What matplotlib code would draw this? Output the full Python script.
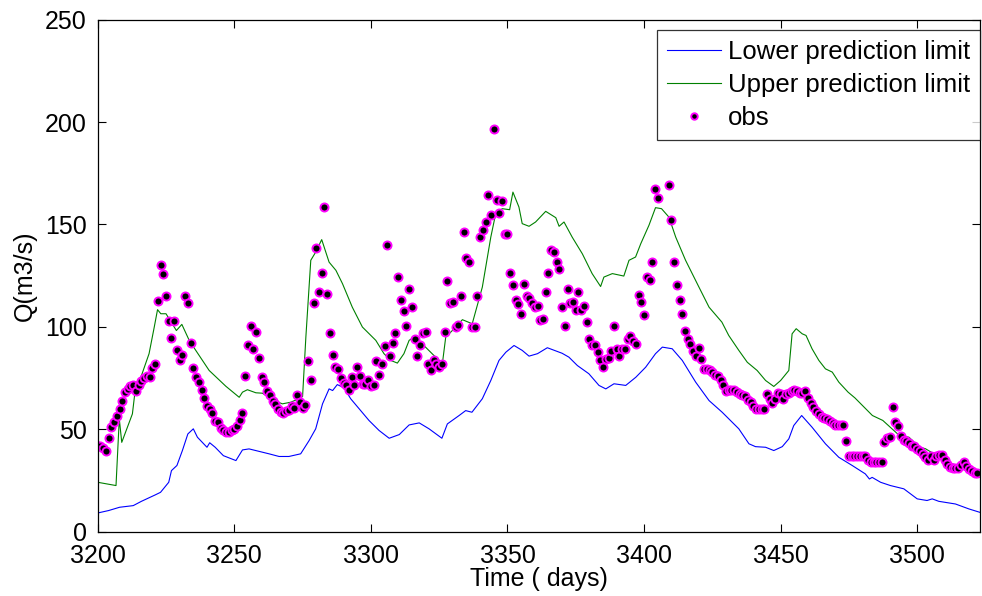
import numpy as np
import matplotlib
matplotlib.use("Agg")
import matplotlib.pyplot as plt

plt.rcParams['font.family'] = ['Liberation Sans', 'DejaVu Sans']

# ---- data -------------------------------------------------------------
obs_start = 3200
nan = np.nan
obs_q = [
    42, 41.7, 41, 39.6, 45.8, 51.3, 53.3, 56.7, 59.8, 63.9,
    68, 69.7, 70.9, 71.4, 68.6, 71.8, 73.8, 75.1, 76.2, 75.4,
    80, 82, 112.8, 130.3, 125.6, 114.9, 102.8, 94.7, 102.8, 88.8,
    83.9, 86.2, 114.9, 111.6, 92, 80, 75.4, 73.2, 69.3, 65.3,
    61.4, 59.8, 57.8, 53.8, 53.3, 50.5, 49.4, 48.5, 48.5, 49.4,
    50.2, 51.8, 54.3, 58, 75.9, 90.9, 100.2, 89.4, 97.4, 84.7,
    75.4, 73.3, 68.9, 66.5, 64, 62.1, 60, 58.3, 58, 58.7,
    59.5, 61.2, 60.4, 66.8, 63.5, 60.4, 62, 83.4, 74.1, 111.6,
    138.3, 117, 126.2, 158.5, 116.2, 96.9, 86.2, 80.2, 79.3, 74.8,
    72.8, 71.8, 69.4, 75.4, 71.4, 80.2, 75.9, 72.2, 72.2, 74.1,
    71, 71.4, 83.4, 76.7, 82.1, 90.8, 139.8, 86, 92, 96.8,
    124.1, 112.9, 107.5, 100.2, 118.3, 109.6, 94.2, 86, 90.9, 96.9,
    97.4, 82, 78.7, 83.6, 82, 80.6, 82, 97.4, 122.3, 111.8,
    112.1, 99.7, 100.7, 114.9, 146.5, 133.8, 131.6, 99.7, 99.7, 114.9,
    143.7, 147.1, 151.2, 164.6, 154.4, 196.8, 161.8, 155.8, 161.6, 145.2,
    145.2, 126.4, 120.2, 112.9, 111.3, 106.1, 121.1, 114.9, 114, 111.6,
    109.6, 110.1, 103.1, 103.6, 117, 126.4, 137.3, 136.5, 131.6, 128.4,
    109.6, 100.3, 118.3, 111.8, 112.1, 108.4, 117, 108.4, 110.1, 102.3,
    94.2, 90.9, 90.9, 87.6, 83.6, 80.6, 84.4, 84.7, 88.1, 100.2,
    89, 86, 89.3, 89, 94.2, 95.6, 92.9, 91.7, 115.7, 112.1,
    105.6, 124.3, 123, 131.6, 167.2, 163.1, nan, nan, nan, 169.1,
    152.3, 131.6, 120.2, 112.9, 106.1, 98.2, 94.2, 91.4, 88.1, 86,
    89.6, 84.1, 79.2, 79.2, 78.7, 77.9, 76.7, 75.9, 74.1, 71.8,
    68.9, 69, 69, 69, 68.4, 67.3, 66.5, 66.1, 64.5, 63.2,
    61.4, 60, 60, 60, 60, 67, 64.9, 62.9, 64.9, 67.8,
    67, 65, 67.3, 67.8, 68.6, 69.4, 68.6, 67.6, 67.8, 68.6,
    65.2, 62.7, 60.8, 59.1, 57.5, 56.2, 55.6, 54.9, 53.9, 52.9,
    52.1, 52, 52, 52, 44.5, 36.8, 36.8, 36.8, 36.8, 36.8,
    36.8, 36.8, 35, 34, 34, 34, 34, 34, 44, 45.6,
    46.1, 61.1, 53.3, 51.8, 46.6, 44.8, 44.1, 43.3, 42, 41.7,
    40.4, 39.3, 38, 36.3, 35, 36.7, 35, 37, 37.5, 37.5,
    35, 33, 31.4, 31, 31, 31, 32.3, 33.9, 31.9, 30.6,
    29.5, 28.5, 28.5,
]
obs_days = np.arange(obs_start, obs_start + len(obs_q))

lower_days = [3200, 3204, 3208, 3213, 3216, 3221, 3223, 3226, 3227, 3229,
              3231, 3233, 3235, 3236.5, 3240, 3241, 3243, 3246, 3250.6, 3253,
              3255.4, 3262.7, 3266.4, 3270, 3274.3, 3277.4, 3279.8, 3282.3, 3284.7, 3286,
              3287.7, 3290.2, 3292.6, 3295.7, 3299.3, 3303, 3306.7, 3310.4, 3314, 3317.7,
              3321.3, 3326, 3328, 3332.3, 3334.7, 3337, 3340.8, 3343.9, 3346.9, 3349.4,
              3352.4, 3355.4, 3357.9, 3361, 3364.6, 3370, 3372.5, 3375.6, 3379.8, 3383.5,
              3386, 3389, 3393.3, 3397, 3400.6, 3404.2, 3406.7, 3410.3, 3414, 3418.9,
              3423.8, 3428.6, 3434.7, 3438.4, 3440.8, 3444.5, 3447.5, 3450.6, 3453, 3454.8,
              3457.7, 3461.5, 3466.4, 3471.3, 3476.2, 3481, 3482.5, 3483.5, 3486.6, 3490.2,
              3495.1, 3500, 3503.6, 3505.5, 3507.9, 3514, 3518.9, 3523]
lower_q = [9.1, 10.3, 11.9, 12.7, 14.8, 17.9, 19.2, 24.1, 29.8, 32.3,
           39.6, 47.7, 50.2, 46.1, 41.2, 43.4, 41.2, 37.1, 34.7, 39.9,
           40.4, 38, 36.7, 36.7, 38, 44.5, 50.2, 62.4, 69.7, 68.9,
           71.8, 70.2, 64.9, 60, 54.3, 49.4, 45.6, 47.4, 52.1, 53.1,
           50.2, 45.6, 52.6, 56.7, 59.1, 58.3, 64.9, 73.8, 83.6, 87.6,
           90.9, 88.5, 85.7, 86.9, 89.8, 87.1, 85.2, 81.1, 77.1, 71.4,
           69.7, 72.2, 71.4, 75.4, 80.3, 86.9, 90.1, 89.3, 83.6, 73,
           64, 58.3, 50.2, 42.9, 41.5, 41.2, 39.6, 41.5, 45.3, 51.8,
           56.7, 51, 42.9, 36.3, 32.3, 28.2, 25.7, 26.5, 24.1, 22.5,
           20.9, 16, 15.2, 16, 14.8, 13.5, 11.1, 9.4]

upper_days = [3200, 3206.7, 3207.9, 3208.8, 3212.7, 3214, 3215.8, 3218.8, 3220.7, 3221.9,
              3223.1, 3225, 3228.8, 3230.8, 3233.5, 3235.9, 3240.8, 3246.9, 3251.8, 3253,
              3254.8, 3257.9, 3260.3, 3264.6, 3267.6, 3270.7, 3274.3, 3275, 3276.2, 3278,
              3279.8, 3282, 3284.7, 3287.2, 3289.6, 3293.2, 3296.9, 3301.8, 3304.8, 3307.3,
              3309.7, 3312.1, 3314, 3315.8, 3320, 3323.7, 3326.2, 3327.4, 3331.1, 3333.5,
              3337.1, 3340.8, 3343.9, 3345.7, 3348.1, 3350.8, 3352, 3354.2, 3355.4, 3357.9,
              3360.3, 3364, 3367.7, 3368.9, 3370.7, 3373.7, 3377.4, 3381, 3384.1, 3385.3,
              3388.4, 3392.6, 3394.5, 3396.9, 3398.8, 3401.8, 3404.2, 3406.4, 3409.1, 3411.6,
              3415.2, 3420.1, 3423.8, 3428.5, 3431, 3434.7, 3437.8, 3441.4, 3444.5, 3447.5,
              3450, 3453, 3454.2, 3455.7, 3457.9, 3459.3, 3461.5, 3464, 3466.4, 3468.9,
              3471.3, 3474.7, 3477.2, 3483.6, 3487.4, 3493.5, 3497, 3500.8, 3503, 3508,
              3513, 3517.7, 3523]
upper_q = [24.1, 22.5, 55.1, 43.6, 57.5, 72.2, 75.4, 86.9, 99.9, 108.4,
           106.4, 106.4, 98.2, 101.2, 93.4, 88.5, 78.7, 71, 65.6, 68.1,
           69.3, 67.8, 67.6, 64, 62.4, 63.2, 65.3, 66, 95, 132.5,
           136.5, 142.6, 131.6, 127.6, 121.1, 109.6, 99.9, 93.4, 86.9, 83.6,
           82.3, 86.9, 93.4, 95, 90.1, 85.2, 82.3, 95, 99.9, 103.5,
           101.5, 119.4, 143.8, 155.3, 157.7, 157.2, 165.8, 158.5, 150.4, 149.1,
           151.2, 156.4, 153.3, 149.1, 151.2, 143.8, 135.7, 126, 119.7, 124.3,
           126, 124.8, 132.5, 134.1, 140.6, 149.6, 158.2, 157.7, 153.6, 143.8,
           132.5, 119.4, 109.6, 102.3, 95.8, 88.5, 82.7, 78.7, 73.8, 70.9,
           73.8, 78.7, 96.6, 99.1, 96.6, 95.8, 89.3, 83.6, 79.5, 77.9,
           73, 68.1, 65.3, 56.7, 54.3, 46.9, 46.1, 41.2, 40.5, 36.5,
           33, 31.4, 29]

x_ticks = [3200, 3250, 3300, 3350, 3400, 3450, 3500]
y_ticks = [0, 50, 100, 150, 200, 250]
labels = ["Lower prediction limit", "Upper prediction limit", "obs"]

# ---- figure -----------------------------------------------------------
fig = plt.figure(figsize=(9.82, 5.96), dpi=100)
ax = fig.add_axes([0.0995, 0.108, 0.8985, 0.859])

ax.plot(lower_days, lower_q, color='#0000FF', lw=0.8, label=labels[0])
ax.plot(upper_days, upper_q, color='#008000', lw=0.8, label=labels[1])
ax.plot(obs_days, obs_q, linestyle='none', marker='o', ms=5.8,
        mfc='black', mec='#FF00FF', mew=1.4, label=labels[2])

ax.set_xlim(3200, 3523)
ax.set_ylim(0, 250)
ax.set_xticks(x_ticks)
ax.set_yticks(y_ticks)
ax.tick_params(direction='in', length=6, width=0.8, top=True, right=True,
               labelsize=18, colors='black')
ax.tick_params(axis='x', pad=9)
ax.tick_params(axis='y', pad=8)
for t in ax.get_yticklabels():
    t.set_verticalalignment('center_baseline')
for s in ax.spines.values():
    s.set_linewidth(0.9)
    s.set_color('black')

ax.set_xlabel("Time ( days)", fontsize=18, labelpad=-1)
ax.set_ylabel("Q(m3/s)", fontsize=18, labelpad=6)

leg = ax.legend(loc='upper right', bbox_to_anchor=(1.0, 0.98), borderaxespad=0,
                fontsize=18.5, frameon=True, fancybox=False, edgecolor='black',
                handlelength=2.1, handletextpad=0.25, labelspacing=0.35,
                borderpad=0.4, markerscale=0.8)
leg.get_frame().set_linewidth(0.9)

fig.savefig("out.png", dpi=100, facecolor='white')
